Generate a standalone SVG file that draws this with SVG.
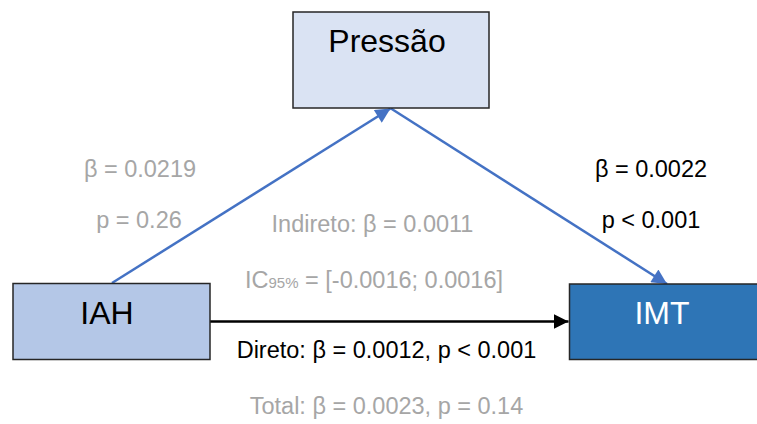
<svg xmlns="http://www.w3.org/2000/svg" width="757" height="424" viewBox="0 0 757 424">
  <style>
    .box { stroke: #262626; stroke-width: 1.5; }
    .big { font-family: "Liberation Sans", Arial, sans-serif; font-size: 32px; text-anchor: middle; }
    .lbl { font-family: "Liberation Sans", Arial, sans-serif; font-size: 23.5px; text-anchor: middle; }
    .grey { fill: #a6a6a6; }
    .dark { fill: #000000; }
    .blue-line { stroke: #4472c4; stroke-width: 2.5; fill: none; }
    .black-line { stroke: #000000; stroke-width: 2.5; fill: none; }
  </style>
  <defs>
    <marker id="headBlue" viewBox="0 0 10 10" refX="10" refY="5" markerWidth="7" markerHeight="6" markerUnits="strokeWidth" orient="auto">
      <path d="M0,0 L10,5 L0,10 z" fill="#4472c4"/>
    </marker>
    <marker id="headBlack" viewBox="0 0 10 10" refX="10" refY="5" markerWidth="6" markerHeight="6.4" markerUnits="strokeWidth" orient="auto">
      <path d="M0,0 L10,5 L0,10 z" fill="#000000"/>
    </marker>
  </defs>

  <rect width="757" height="424" fill="#ffffff"/>

  <!-- paths between the variables -->
  <g id="connectors">
    <line class="blue-line" x1="112" y1="283" x2="390.5" y2="108.5" marker-end="url(#headBlue)"/>
    <line class="blue-line" x1="391" y1="108.5" x2="667" y2="284" marker-end="url(#headBlue)"/>
    <line class="black-line" x1="210" y1="321.5" x2="568.5" y2="321.5" marker-end="url(#headBlack)"/>
  </g>

  <g id="node-pressao">
    <rect class="box" x="293" y="12" width="196" height="96" fill="#dae3f3"/>
    <text class="big dark" x="387" y="52">Pressão</text>
  </g>

  <g id="node-iah">
    <rect class="box" x="13" y="283.5" width="197" height="76" fill="#b4c7e7"/>
    <text class="big dark" x="107" y="324">IAH</text>
  </g>

  <g id="node-imt">
    <rect class="box" x="569.5" y="284" width="197" height="75.5" fill="#2e75b6"/>
    <text class="big" fill="#ffffff" x="662" y="324">IMT</text>
  </g>

  <!-- path coefficients -->
  <g id="labels">
    <text class="lbl grey" x="140" y="177">β = 0.0219</text>
    <text class="lbl grey" x="139" y="228">p = 0.26</text>
    <text class="lbl dark" x="651" y="177">β = 0.0022</text>
    <text class="lbl dark" x="651" y="228">p &lt; 0.001</text>
    <text class="lbl grey" x="372.5" y="232">Indireto: β = 0.0011</text>
    <text class="lbl grey" x="374" y="288">IC<tspan font-size="15px">95%</tspan> = [-0.0016; 0.0016]</text>
    <text class="lbl dark" x="386.5" y="358">Direto: β = 0.0012, p &lt; 0.001</text>
    <text class="lbl grey" x="386.5" y="414">Total: β = 0.0023, p = 0.14</text>
  </g>
</svg>
